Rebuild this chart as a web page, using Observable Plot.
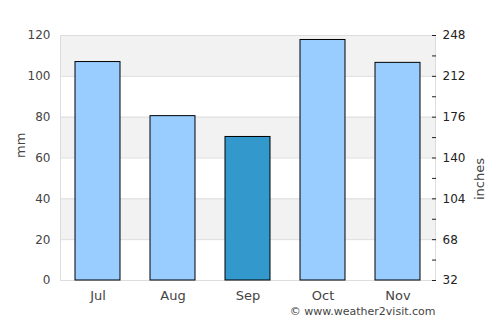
<!DOCTYPE html>
<html>
<head>
<meta charset="utf-8">
<script src="https://cdn.jsdelivr.net/npm/d3@7"></script>
<script src="https://cdn.jsdelivr.net/npm/@observablehq/plot@0.6"></script>
<style>
  html, body { margin: 0; padding: 0; background: #fff; }
  #chart { width: 500px; height: 325px; }
</style>
</head>
<body>
<div id="chart"></div>
<script>
const months = ["Jul", "Aug", "Sep", "Oct", "Nov"];
const rainfall = [107, 80.5, 70.3, 117.8, 106.6];
const highlight = ["Sep"];
const leftTicks = [0, 20, 40, 60, 80, 100, 120];
const rightLabels = [32, 68, 104, 140, 176, 212, 248];
const rightMinor = [50, 86, 122, 158, 194, 230];
const stripes = [[20, 40], [60, 80], [100, 120]];

const data = months.map((m, i) => ({month: m, value: rainfall[i]}));
const toMm = v => (v - 32) / 1.8;
const fromMm = mm => Math.round(mm * 1.8 + 32);

const font = "DejaVu Sans";

const plot = Plot.plot({
  width: 500,
  height: 325,
  marginLeft: 60,
  marginRight: 65,
  marginTop: 35,
  marginBottom: 45,
  style: {fontFamily: font, background: "#fff", overflow: "visible"},
  x: {domain: months, paddingInner: 0.4, paddingOuter: 0.2, label: null},
  y: {domain: [0, 120], label: null},
  marks: [
    Plot.rectY(stripes, {y1: d => d[0], y2: d => d[1], fill: "#f2f2f2"}),
    Plot.ruleY(leftTicks, {stroke: "#dddddd", strokeWidth: 1}),
    Plot.frame({anchor: "left", stroke: "#dddddd"}),
    Plot.frame({anchor: "right", stroke: "#dddddd"}),
    Plot.frame({anchor: "top", stroke: "#dddddd"}),
    Plot.barY(data, {
      x: "month", y: "value",
      fill: d => highlight.includes(d.month) ? "#3399cc" : "#99ccff",
      stroke: "#000", strokeWidth: 1
    }),
    Plot.axisY(leftTicks, {anchor: "left", tickSize: 0, tickPadding: 10, fontSize: 12, fill: "#444", label: null}),
    Plot.axisY(rightLabels.map(toMm), {anchor: "right", tickSize: 0, tickPadding: 7, fontSize: 12, fill: "#222", tickFormat: fromMm, label: null}),
    Plot.axisY(rightLabels.concat(rightMinor).map(toMm), {anchor: "right", tickSize: -4, tickFormat: () => "", stroke: "#222", label: null}),
    Plot.axisX({anchor: "bottom", tickSize: 0, tickPadding: 10, fontSize: 13, fill: "#444", label: null}),
    Plot.text(["mm"], {frameAnchor: "left", dx: -40, rotate: -90, fontSize: 13, fill: "#444"}),
    Plot.text(["inches"], {frameAnchor: "right", dx: 44, rotate: -90, fontSize: 13, fill: "#444"}),
    Plot.text(["© www.weather2visit.com"], {frameAnchor: "bottom-right", dy: 34, textAnchor: "end", fontSize: 11, fill: "#444"})
  ]
});
document.getElementById("chart").appendChild(plot);
</script>
</body>
</html>
